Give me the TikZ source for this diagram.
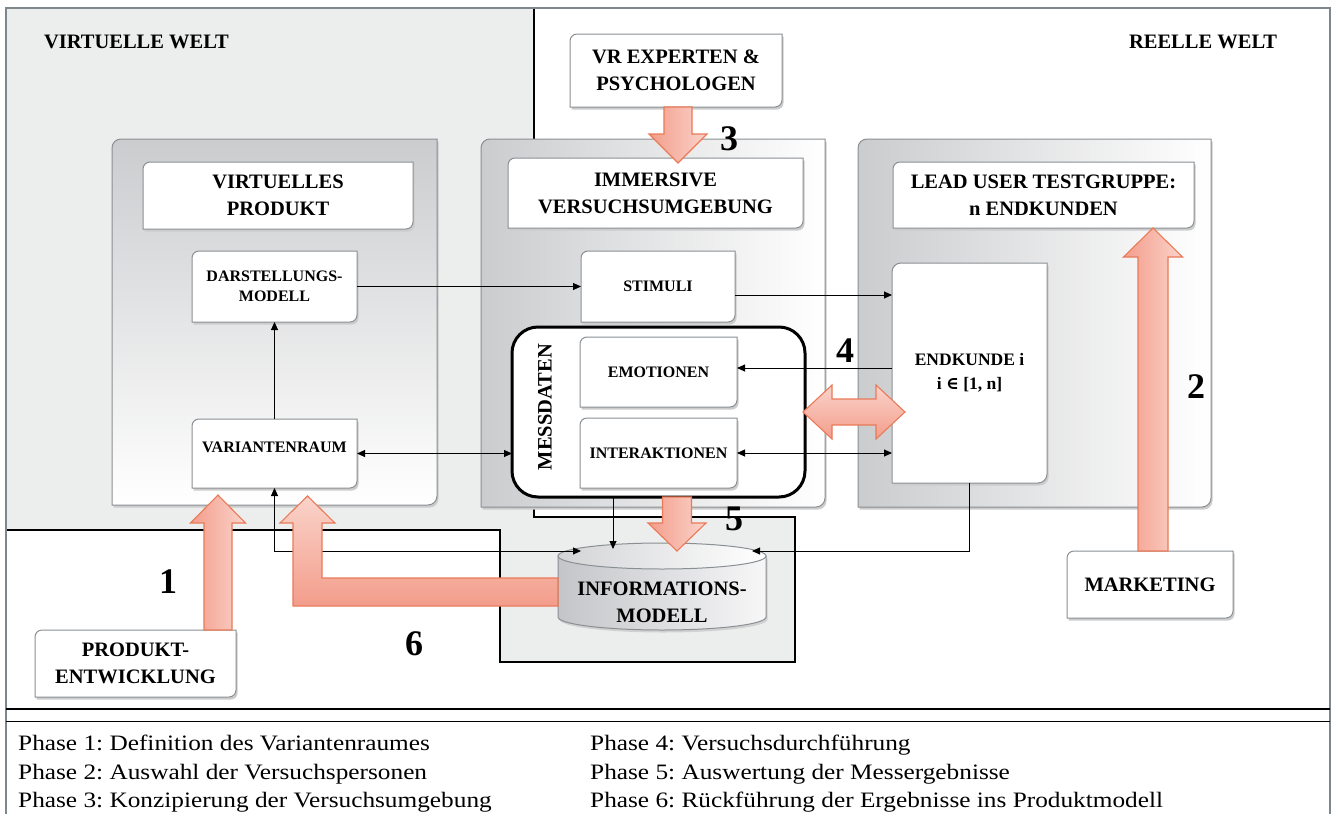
\documentclass[tikz,border=0pt]{standalone}
\usepackage{fontspec}
\setmainfont{Liberation Serif}
\newfontfamily\legendfont[FakeStretch=1.15]{Liberation Serif}
\newfontfamily\symfont{DejaVu Serif}
\usetikzlibrary{calc,arrows.meta}
\pgfdeclarelayer{back}
\pgfdeclarelayer{cont}
\pgfdeclarelayer{mid}
\pgfdeclarelayer{boxes}
\pgfsetlayers{back,cont,mid,boxes,main}

\definecolor{worldgray}{HTML}{ECEDED}
\definecolor{framegray}{HTML}{7E878C}
\definecolor{boxline}{HTML}{8A8F93}
\definecolor{contdark}{HTML}{CBCCCE}
\definecolor{salmonD}{HTML}{F39D8B}
\definecolor{salmonL}{HTML}{FAD3CA}
\definecolor{salmonB}{HTML}{EA7A58}
\definecolor{cylD}{HTML}{C4C5C8}
\definecolor{cylL}{HTML}{F7F7F8}

% outline with rounded top-left and bottom-right corners
\newcommand\dframe[3][]{%
  \path[#1] (#2.west) [rounded corners=#3] -- (#2.north west) -- (#2.north)
    [sharp corners] -- (#2.north east) -- (#2.east) [rounded corners=#3]
    -- (#2.south east) -- (#2.south) [sharp corners] -- (#2.south west) -- cycle;}
% the same outline with a soft drop shadow
\newcommand\sframe[3][]{%
  \begin{scope}[transform canvas={shift={(1.6pt,-2.6pt)}}]
    \dframe[fill=black!20]{#2}{#3}
  \end{scope}
  \dframe[draw=boxline,line width=1pt,#1]{#2}{#3}}
% broad block arrow along a vertical line: x, tail y, tip y, shaft half, head half, head length
\newcommand\bigvert[7][]{%
  \path[bigarrow,#1] ({#2-#5},#3) -- ({#2-#5},{#4+#7}) -- ({#2-#6},{#4+#7}) -- (#2,#4)
    -- ({#2+#6},{#4+#7}) -- ({#2+#5},{#4+#7}) -- ({#2+#5},#3) -- cycle;}

\tikzset{
  area/.style={inner sep=0pt, outer sep=0pt},
  lbl/.style={area, font=\bfseries\fontsize{20.5}{27}\selectfont, align=center},
  sml/.style={area, font=\bfseries\fontsize{16}{20}\selectfont, align=center},
  num/.style={inner sep=0pt, anchor=base, font=\bfseries\fontsize{36}{36}\selectfont},
  legend/.style={inner sep=0pt, anchor=base west, font=\legendfont\frenchspacing\fontsize{22}{29}\selectfont},
  conn/.style={line width=0.9pt, -{Triangle[length=8pt,width=7pt]}},
  conn2/.style={line width=0.9pt, {Triangle[length=8pt,width=7pt]}-{Triangle[length=8pt,width=7pt]}},
  bigarrow/.style={draw=salmonB, line width=1.1pt, line join=miter, left color=salmonD, right color=salmonL},
  bigarrowv/.style={draw=salmonB, line width=1.1pt, line join=miter, top color=salmonL, bottom color=salmonD},
}

\begin{document}
\begin{tikzpicture}[x=1pt,y=-1pt]
\useasboundingbox (0,0) rectangle (1333,814);

% ---------- background: worlds, borders, legend rules ----------
\begin{pgfonlayer}{back}
  \fill[white] (0,0) rectangle (1333,814);
  \fill[worldgray] (6,8) -- (534,8) -- (534,517) -- (795,517) -- (795,662)
    -- (500,662) -- (500,530) -- (6,530) -- cycle;
  \draw[line width=2.2pt] (534,8) -- (534,139);
  \draw[line width=1.2pt] (534,505) -- (534,517) -- (795,517);
  \draw[line width=2.6pt, line join=miter] (795,516) -- (795,662) -- (500,662) -- (500,530) -- (6,530);
  \draw[framegray, line width=1.5pt] (6,814) -- (6,8) -- (1330,8) -- (1330,814);
  \draw[line width=2.4pt] (6,709) -- (1330,709);
  \draw[line width=0.9pt] (6,721) -- (1330,721);
\end{pgfonlayer}

% ---------- world titles ----------
\node[lbl, anchor=base west] (vwelt) at (44,48) {VIRTUELLE WELT};
\node[lbl, anchor=base east] (rwelt) at (1277,48) {REELLE WELT};

% ---------- group containers ----------
\node[area, minimum width=325pt, minimum height=366pt] (CL) at (274.5,322) {};
\node[area, minimum width=344pt, minimum height=368pt] (CM) at (653,323) {};
\node[area, minimum width=353pt, minimum height=368pt] (CR) at (1034.5,323) {};
\begin{pgfonlayer}{cont}
  \sframe[top color=contdark, bottom color=white]{CL}{9pt}
  \sframe[left color=contdark, right color=white]{CM}{9pt}
  \sframe[left color=contdark, right color=white]{CR}{9pt}
\end{pgfonlayer}

% ---------- boxes ----------
\node[lbl, minimum width=270pt, minimum height=67pt] (VP) at (278,195.5) {VIRTUELLES\\PRODUKT};
\node[sml, minimum width=165pt, minimum height=71pt] (DM) at (274.5,286.5) {DARSTELLUNGS-\\MODELL};
\node[sml, minimum width=165pt, minimum height=69pt, text depth=12pt] (VR) at (274.5,453.5) {VARIANTENRAUM};
\node[lbl, minimum width=295pt, minimum height=70pt] (IV) at (655.5,193) {IMMERSIVE\\VERSUCHSUMGEBUNG};
\node[lbl, minimum width=212pt, minimum height=73pt] (EX) at (676,70.5) {VR EXPERTEN \&\\PSYCHOLOGEN};
\node[sml, minimum width=154pt, minimum height=71pt] (ST) at (658,286.5) {STIMULI};
\node[area, minimum width=293pt, minimum height=170pt] (MD) at (658.5,412) {};
\node[lbl, rotate=90] (MDL) at (545,407) {MESSDATEN};
\node[sml, minimum width=157pt, minimum height=70pt] (EM) at (658.5,372) {EMOTIONEN};
\node[sml, minimum width=157pt, minimum height=70pt] (IA) at (658.5,453) {INTERAKTIONEN};
\node[lbl, minimum width=301pt, minimum height=66pt] (LU) at (1043.5,195) {LEAD USER TESTGRUPPE:\\n ENDKUNDEN};
\node[area, align=center, font=\bfseries\fontsize{17.5}{24}\selectfont,
      minimum width=155pt, minimum height=220pt] (EK) at (969.5,373)
      {ENDKUNDE i\\i {\symfont\bfseries ∈} [1, n]};
\node[lbl, minimum width=166pt, minimum height=67pt] (MK) at (1150,584.5) {MARKETING};
\node[lbl, minimum width=201pt, minimum height=67pt] (PE) at (135.5,663.5) {PRODUKT-\\ENTWICKLUNG};
\node[lbl, minimum width=208pt, minimum height=60pt] (IM) at (662,602) {INFORMATIONS-\\MODELL};

\begin{pgfonlayer}{mid}
  \draw[line width=3pt, fill=white, rounded corners=26pt] (MD.south west) rectangle (MD.north east);
\end{pgfonlayer}

\begin{pgfonlayer}{boxes}
  \sframe[fill=white]{VP}{7pt}
  \sframe[fill=white]{DM}{7pt}
  \sframe[fill=white]{VR}{7pt}
  \sframe[fill=white]{IV}{7pt}
  \sframe[fill=white]{EX}{7pt}
  \sframe[fill=white]{ST}{7pt}
  \sframe[fill=white]{EM}{7pt}
  \sframe[fill=white]{IA}{7pt}
  \sframe[fill=white]{LU}{7pt}
  \sframe[fill=white]{EK}{9pt}
  \sframe[fill=white]{MK}{7pt}
  \sframe[fill=white]{PE}{7pt}
  % database cylinder
  \begin{scope}[transform canvas={shift={(1.5pt,-2.5pt)}}]
    \fill[black!18] (558,556) -- (558,617) arc[start angle=180,end angle=360,x radius=104pt,y radius=13pt] -- (766,556) -- cycle;
  \end{scope}
  \shade[left color=cylD, right color=cylL, draw=boxline, line width=1pt]
    (558,556) -- (558,617) arc[start angle=180,end angle=360,x radius=104pt,y radius=13pt] -- (766,556) -- cycle;
  \shade[left color=cylD!75!white, right color=white, draw=boxline, line width=1pt]
    (662,556) ellipse[x radius=104pt, y radius=13pt];
\end{pgfonlayer}

% ---------- points on the top of the database ----------
\coordinate (cylL) at (581,551);
\coordinate (cylM) at (613,549);
\coordinate (cylR) at (752,551);

% ---------- thin connectors ----------
\draw[conn] (VR.north) -- (DM.south);
\draw[conn] (DM.east) -- (ST.west);
\draw[conn] ([yshift=-8.5pt]ST.east) -- ([yshift=-8.5pt]ST.east -| EK.west);
\draw[conn] ([yshift=4pt]EM.east -| EK.west) -- ([yshift=4pt]EM.east);
\draw[conn2] (IA.east) -- (IA.east -| EK.west);
\draw[conn2] (VR.east) -- (VR.east -| MD.west);
\draw[conn2] (VR.south) |- (cylL);
\draw[conn] (cylM |- MD.south) -- (cylM);
\draw[conn] (EK.south) |- (cylR);

% ---------- broad phase arrows ----------
\bigvert{218}{630}{495}{14}{27.5}{28}          % Produktentwicklung -> Variantenraum
\bigvert{1153}{551}{228}{15}{29.5}{29}         % Marketing -> Testgruppe
\bigvert{678}{107}{163}{14}{29}{-29}           % Experten -> Versuchsumgebung
\bigvert{677}{497}{551}{14.5}{29}{-28}         % Messdaten -> Informationsmodell
\path[bigarrowv] (803,412) -- (832,385) -- (832,399) -- (876,399) -- (876,385) -- (905,412)
  -- (876,439) -- (876,425) -- (832,425) -- (832,439) -- cycle;   % Versuchsdurchfuehrung
\path[bigarrowv] (558,578) -- (322,578) -- (322,523) -- (335,523) -- (307.5,496) -- (280,523)
  -- (293,523) -- (293,606) -- (558,606) -- cycle;                % Rueckfuehrung

% ---------- phase numbers ----------
\node[num] (n1) at (168,593) {1};
\node[num] (n2) at (1196,398) {2};
\node[num] (n3) at (729,150) {3};
\node[num] (n4) at (845,362) {4};
\node[num] (n5) at (734,530) {5};
\node[num] (n6) at (414,655) {6};

% ---------- legend ----------
\node[legend] (L1) at (18,750) {Phase 1: Definition des Variantenraumes};
\node[legend] (L2) at (18,779) {Phase 2: Auswahl der Versuchspersonen};
\node[legend] (L3) at (18,807) {Phase 3: Konzipierung der Versuchsumgebung};
\node[legend] (L4) at (590,750) {Phase 4: Versuchsdurchführung};
\node[legend] (L5) at (590,779) {Phase 5: Auswertung der Messergebnisse};
\node[legend] (L6) at (590,807) {Phase 6: Rückführung der Ergebnisse ins Produktmodell};
\end{tikzpicture}
\end{document}
